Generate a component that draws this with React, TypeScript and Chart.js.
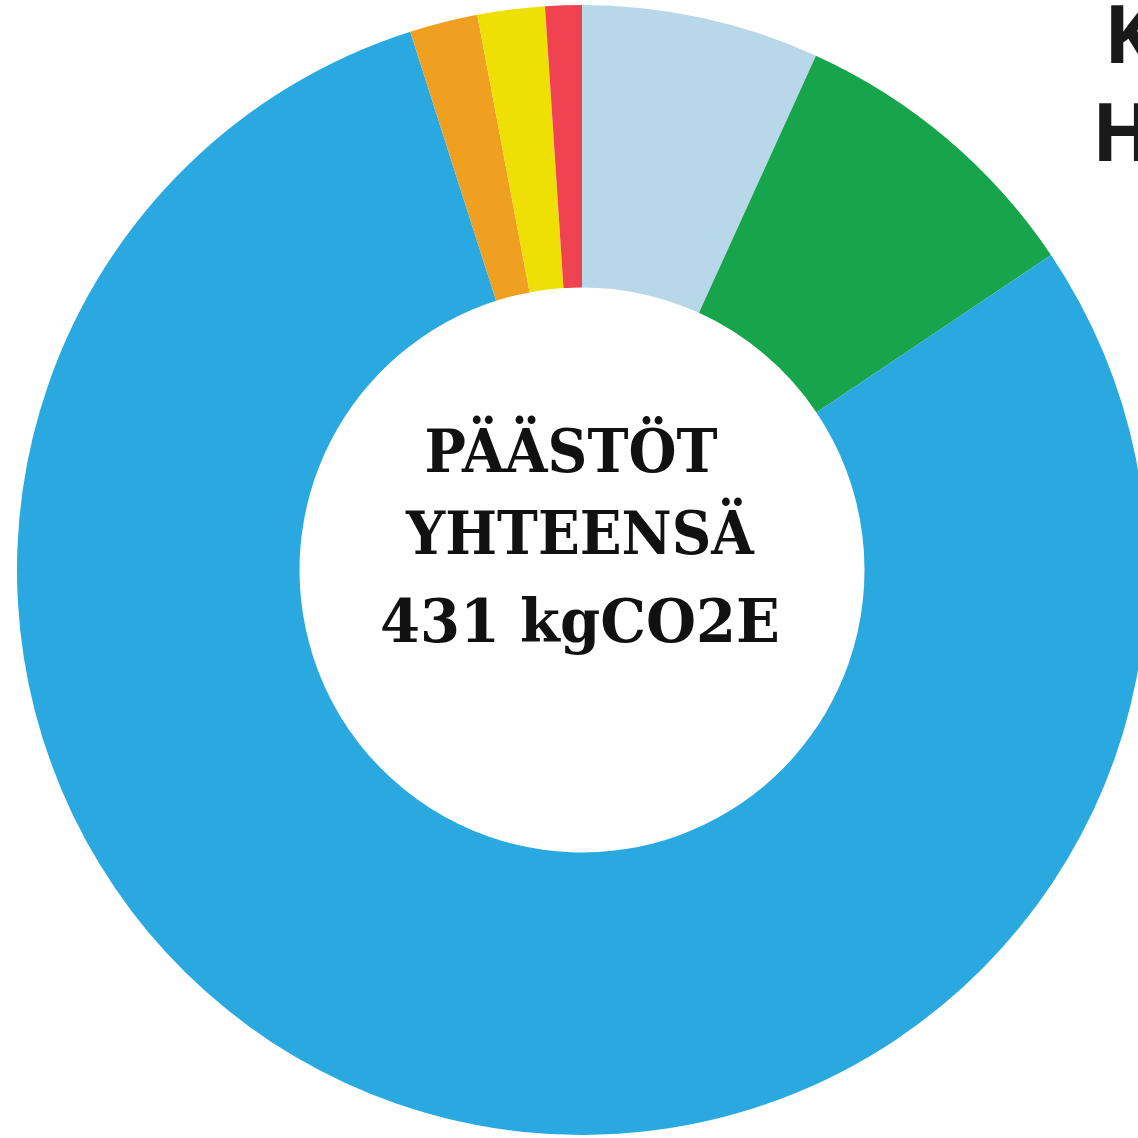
import React, { useEffect, useRef } from "react";
import { Chart, registerables } from "chart.js";

Chart.register(...registerables);

const categories = ["Luokka 1", "Luokka 2", "Luokka 3", "Luokka 4", "Luokka 5", "Luokka 6"];
const values = [29.3, 37.9, 342.8, 8.4, 8.3, 4.5];
const colors = ["#b8d8ea", "#17a54b", "#29a9e0", "#f0a020", "#eee004", "#ef4352"];
const centerLines = ["PÄÄSTÖT", "YHTEENSÄ", "431 kgCO2E"];
const titleLines = ["K", "H"];

export default function App() {
  const ref = useRef<HTMLCanvasElement | null>(null);

  useEffect(() => {
    document.body.style.margin = "0";
    const canvas = ref.current;
    if (!canvas) return;
    const chart = new Chart(canvas, {
      type: "doughnut",
      data: {
        labels: categories,
        datasets: [
          {
            data: values,
            backgroundColor: colors,
            borderWidth: 0,
            hoverOffset: 0,
          },
        ],
      },
      options: {
        responsive: false,
        animation: false,
        cutout: "50%",
        layout: { padding: { left: 17, right: 17, top: 5, bottom: 5 } },
        plugins: {
          legend: { display: false },
          tooltip: { enabled: false },
          title: { display: false },
        },
      },
    });
    return () => chart.destroy();
  }, []);

  const centerTops = [452, 534, 622];
  const squeeze = [0.935, 0.93, 0.975];
  const centerX = [571, 580, 580];

  return (
    <div
      style={{
        position: "absolute",
        left: 0,
        top: 0,
        width: 1138,
        height: 1138,
        overflow: "hidden",
        background: "#ffffff",
      }}
    >
      <canvas ref={ref} width={1164} height={1140} style={{ position: "absolute", left: 0, top: 0, width: 1164, height: 1140 }} />
      {centerLines.map((t, i) => (
        <div
          key={t}
          style={{
            position: "absolute",
            left: centerX[i] - 300,
            width: 600,
            top: centerTops[i] - 50,
            height: 100,
            lineHeight: "100px",
            textAlign: "center",
            fontFamily: "'DejaVu Serif', serif",
            fontWeight: 700,
            fontSize: 59,
            transform: `scaleX(${squeeze[i]})`,
            color: "#111111",
            whiteSpace: "nowrap",
          }}
        >
          {t}
        </div>
      ))}
      {titleLines.map((t, i) => (
        <div
          key={t}
          style={{
            position: "absolute",
            left: i === 0 ? 1104 : 1092,
            top: i === 0 ? -18 : 80,
            fontFamily: "'Open Sans', sans-serif",
            fontWeight: 700,
            fontSize: 80,
            lineHeight: "100px",
            color: "#1a1a1a",
            whiteSpace: "nowrap",
          }}
        >
          {t}
        </div>
      ))}
    </div>
  );
}
